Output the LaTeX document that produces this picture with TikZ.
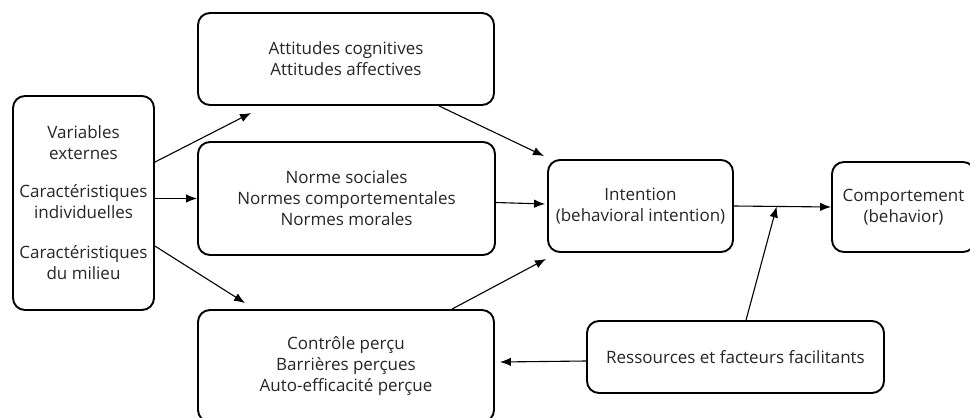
\documentclass[tikz,border=0pt]{standalone}
\usepackage{fontspec}
\setmainfont{Open Sans}
\usetikzlibrary{calc,arrows.meta}
\begin{document}
\begin{tikzpicture}[x=1pt,y=-1pt,
  box/.style={draw=black,line width=1.9pt,rounded corners=12pt,align=center,inner sep=0pt,
    font=\fontsize{17}{21}\selectfont,text=black!85},
  conn/.style={line width=1.1pt,-{Latex[length=11pt,width=8.5pt]}}]
\useasboundingbox (0,0) rectangle (970,418);
\clip (0,0) rectangle (970,418);
\fill[white] (0,0) rectangle (970,418);
\node[box,minimum width=141pt,minimum height=214pt] (left) at (83.5,203)
  {Variables\\externes\\[17pt]Caractéristiques\\individuelles\\[19pt]Caractéristiques\\du milieu};
\node[box,minimum width=296pt,minimum height=92pt] (att) at (346,59)
  {Attitudes cognitives\\Attitudes affectives};
\node[box,minimum width=297pt,minimum height=113pt] (norm) at (346.5,198.5)
  {Norme sociales\\Normes comportementales\\Normes morales};
\node[box,minimum width=296pt,minimum height=112pt] (ctrl) at (346,366)
  {Contrôle perçu\\Barrières perçues\\Auto-efficacité perçue};
\node[box,minimum width=185pt,minimum height=92pt] (int) at (640.5,206)
  {Intention\\(behavioral intention)};
\node[box,minimum width=143pt,minimum height=90pt] (comp) at (903.5,207)
  {Comportement\\(behavior)};
\node[box,minimum width=297pt,minimum height=72pt] (res) at (735.5,357)
  {Ressources et facteurs facilitants};
\coordinate (m) at ($(int.east)!0.44!(comp.west)$);
\draw[conn] ($(left.north east)+(0,67)$) -- ($(att.south west)+(54,7)$);
\draw[conn] (left.east |- norm.west) -- (norm.west);
\draw[conn] ($(left.north east)+(0,151)$) -- ($(ctrl.north west)+(48,-6)$);
\draw[conn] ($(att.south west)+(242,0)$) -- ($(int.north west)+(-3,-3)$);
\draw[conn] ($(norm.east)+(0,4)$) -- ($(int.west)+(-2,-2)$);
\draw[conn] ($(ctrl.north west)+(255,0)$) -- ($(int.south west)+(-1,6)$);
\draw[conn] (int.east) -- (comp.west);
\draw[conn] ($(res.north west)+(160,0)$) -- (m);
\draw[conn] ($(res.west)+(0,4)$) -- ($(ctrl.east)+(5,-4)$);
\end{tikzpicture}
\end{document}
